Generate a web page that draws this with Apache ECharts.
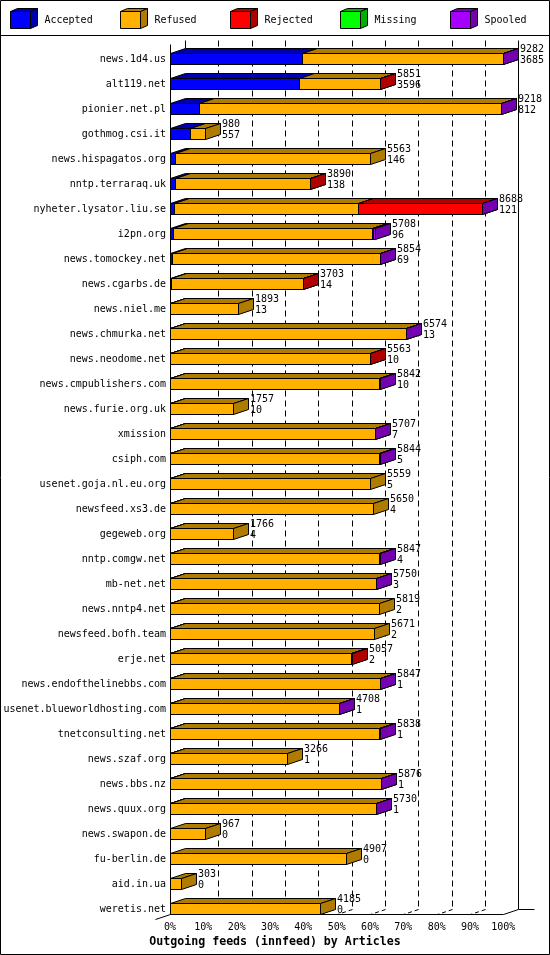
<!DOCTYPE html>
<html><head><meta charset="utf-8">
<script src="https://cdn.jsdelivr.net/npm/echarts@6/dist/echarts.min.js"></script>
<style>html,body{margin:0;padding:0;background:#fff}#c{width:550px;height:955px}</style>
</head><body><div id="c"></div>
<script>
const categories = ['news.1d4.us','alt119.net','pionier.net.pl','gothmog.csi.it','news.hispagatos.org','nntp.terraraq.uk','nyheter.lysator.liu.se','i2pn.org','news.tomockey.net','news.cgarbs.de','news.niel.me','news.chmurka.net','news.neodome.net','news.cmpublishers.com','news.furie.org.uk','xmission','csiph.com','usenet.goja.nl.eu.org','newsfeed.xs3.de','gegeweb.org','nntp.comgw.net','mb-net.net','news.nntp4.net','newsfeed.bofh.team','erje.net','news.endofthelinebbs.com','usenet.blueworldhosting.com','tnetconsulting.net','news.szaf.org','news.bbs.nz','news.quux.org','news.swapon.de','fu-berlin.de','aid.in.ua','weretis.net'];
const totals   = [9282,5851,9218,980,5563,3890,8688,5708,5854,3703,1893,6574,5563,5842,1757,5707,5844,5559,5650,1766,5847,5750,5819,5671,5057,5847,4708,5838,3266,5876,5730,967,4907,303,4185];
const accepted = [3685,3596,812,557,146,138,121,96,69,14,13,13,10,10,10,7,5,5,4,4,4,3,2,2,2,1,1,1,1,1,1,0,0,0,0];
const refused  = [5582,2247,8396,423,5417,3747,5114,5530,5780,3686,1880,6556,5550,5802,1747,5695,5824,5554,5646,1762,5803,5742,5817,5669,5052,5841,4702,5832,3265,5870,5724,967,4907,303,4185];
const rejected = [0,8,0,0,0,5,3443,20,0,3,0,0,3,0,0,0,0,0,0,0,0,0,0,0,3,0,0,0,0,0,0,0,0,0,0];
const missing  = [0,0,0,0,0,0,0,0,0,0,0,0,0,0,0,0,0,0,0,0,0,0,0,0,0,0,0,0,0,0,0,0,0,0,0];
const spooled  = [15,0,10,0,0,0,10,62,5,0,0,5,0,30,0,5,15,0,0,0,40,5,0,0,0,5,5,5,0,5,5,0,0,0,0];
const tickLabels = ['0%','10%','20%','30%','40%','50%','60%','70%','80%','90%','100%'];
const legendNames = ['Accepted','Refused','Rejected','Missing','Spooled'];

const FONT = '10px "DejaVu Sans Mono", monospace';
const DX = 15, DY = 5;
const maxTotal = Math.max(...totals);
const pct = v => v / maxTotal * 100;

const statuses = [
  {name: legendNames[0], values: accepted, front: '#0000ff', dark: '#0000b0'},
  {name: legendNames[1], values: refused,  front: '#ffb000', dark: '#b07c00'},
  {name: legendNames[2], values: rejected, front: '#ff0000', dark: '#b00000'},
  {name: legendNames[3], values: missing,  front: '#00ff00', dark: '#00b000'},
  {name: legendNames[4], values: spooled,  front: '#a800ff', dark: '#7400b0'}
];

const snap = v => Math.round(v) + 0.5;

function segRender(front, dark) {
  return function (params, api) {
    const s = api.value(0), i = api.value(1), e = api.value(2);
    if (!(e > s)) return;
    const p0 = api.coord([pct(s), i]), p1 = api.coord([pct(e), i]);
    const x0 = snap(p0[0]), x1 = snap(p1[0]);
    const c = Math.round(p0[1]);
    const yt = c - 5.5, yb = c + 5.5;
    const st = (f) => ({fill: f, stroke: '#000', lineWidth: 1});
    return {type: 'group', children: [
      {type: 'polygon', shape: {points: [[x0, yt], [x1, yt], [x1 + DX, yt - DY], [x0 + DX, yt - DY]]}, style: st(dark)},
      {type: 'polygon', shape: {points: [[x1, yt], [x1 + DX, yt - DY], [x1 + DX, yb - DY], [x1, yb]]}, style: st(dark)},
      {type: 'rect', shape: {x: x0, y: yt, width: x1 - x0, height: yb - yt}, style: st(front)}
    ]};
  };
}

const series = [];
// frame (back wall, floor)
series.push({
  type: 'custom', name: 'frame', silent: true, data: [[0, 0]],
  renderItem: function (params, api) {
    const c0 = Math.round(api.coord([0, 0])[1]);
    const cN = Math.round(api.coord([0, categories.length - 1])[1]);
    const backTop = c0 - 18.5, frontTop = c0 - 14.5;
    const floorF = cN + 5.5, floorB = floorF - DY;
    const ch = [];
    const line = (x1, y1, x2, y2, dash) => ch.push({type: 'line', shape: {x1, y1, x2, y2}, style: {stroke: '#000', lineWidth: 1, lineDash: dash || null}});
    const x0 = snap(api.coord([0, 0])[0]);
    for (let k = 1; k <= 10; k++) {
      const xf = snap(api.coord([k * 10, 0])[0]);
      const xb = xf + DX;
      if (k < 10) {
        line(xb, backTop, xb, floorB, [6, 4]);
        line(xb, floorB, xf, floorF, [4, 3]);
      } else {
        line(xb, backTop, xb, floorB);
        line(xb, floorB, xf, floorF);
        line(xb, floorB, xb + 16, floorB);
      }
    }
    line(x0 + DX, backTop, x0 + DX, backTop + 8);
    line(x0, frontTop, x0, floorF);
    line(x0, floorF, snap(api.coord([100, 0])[0]), floorF);
    line(x0, floorF, x0 - DX, floorF + DY);
    return {type: 'group', children: ch};
  }
});
statuses.forEach((st) => {
  series.push({
    type: 'custom', name: st.name, silent: true,
    data: categories.map((c, i) => {
      let start = 0;
      for (const o of statuses) { if (o === st) break; start += o.values[i]; }
      return [start, i, start + st.values[i]];
    }),
    renderItem: segRender(st.front, st.dark)
  });
});
// value labels
series.push({
  type: 'custom', name: 'labels', silent: true,
  data: categories.map((c, i) => [totals[i], i, accepted[i]]),
  renderItem: function (params, api) {
    const t = api.value(0), i = api.value(1), a = api.value(2);
    const p = api.coord([pct(t), i]);
    return {type: 'text', x: Math.round(p[0]) + DX + 2, y: Math.round(p[1]) - 4,
      style: {text: t + '\n' + a, fill: '#000', font: FONT, align: 'left', verticalAlign: 'middle', lineHeight: 11}};
  }
});

const graphic = [
  {type: 'rect', shape: {x: 0.5, y: 0.5, width: 549, height: 954}, style: {fill: null, stroke: '#000', lineWidth: 1}, z: 100},
  {type: 'line', shape: {x1: 0, y1: 35.5, x2: 550, y2: 35.5}, style: {stroke: '#000', lineWidth: 1}},
  {type: 'text', x: 275, y: 942, style: {text: 'Outgoing feeds (innfeed) by Articles', font: 'bold 11.6px "DejaVu Sans Mono", monospace', fill: '#000', align: 'center', verticalAlign: 'middle'}}
];
statuses.forEach((st, n) => {
  const x = 10.5 + 110 * n, y = 11.5, w = 20, h = 17, dx = 7, dy = 3;
  graphic.push({type: 'polygon', shape: {points: [[x, y], [x + w, y], [x + w + dx, y - dy], [x + dx, y - dy]]}, style: {fill: st.dark, stroke: '#000', lineWidth: 1}});
  graphic.push({type: 'polygon', shape: {points: [[x + w, y], [x + w + dx, y - dy], [x + w + dx, y + h - dy], [x + w, y + h]]}, style: {fill: st.dark, stroke: '#000', lineWidth: 1}});
  graphic.push({type: 'rect', shape: {x: x, y: y, width: w, height: h}, style: {fill: st.front, stroke: '#000', lineWidth: 1}});
  graphic.push({type: 'text', x: x + 34, y: 20.5, style: {text: st.name, font: FONT, fill: '#000', align: 'left', verticalAlign: 'middle'}});
});

const chart = echarts.init(document.getElementById('c'), null, {renderer: 'canvas'});
chart.setOption({
  animation: false,
  backgroundColor: '#fff',
  grid: {left: 170, top: 46.5, width: 1000 / 3, height: 875, containLabel: false},
  xAxis: {
    type: 'value', min: 0, max: 100, interval: 10,
    axisLine: {show: false}, axisTick: {show: false}, splitLine: {show: false},
    axisLabel: {margin: 1, color: '#000', fontFamily: '"DejaVu Sans Mono", monospace', fontSize: 10,
      formatter: v => tickLabels[Math.round(v / 10)]}
  },
  yAxis: {
    type: 'category', data: categories, inverse: true,
    axisLine: {show: false}, axisTick: {show: false}, splitLine: {show: false},
    axisLabel: {margin: 4, color: '#000', fontFamily: '"DejaVu Sans Mono", monospace', fontSize: 10, interval: 0}
  },
  graphic: graphic,
  series: series
});
</script></body></html>
